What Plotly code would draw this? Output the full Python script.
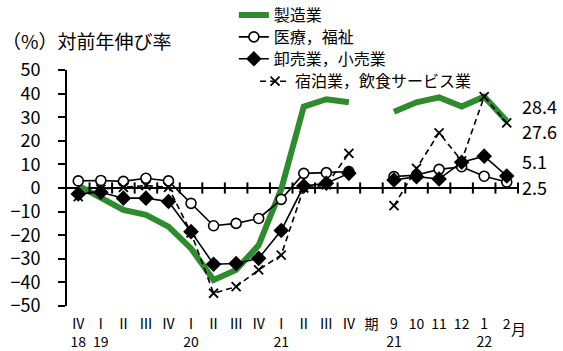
import plotly.graph_objects as go

# Category labels: quarters (2018 Q4 - 2021 Q4), a spacer, then months (Sep 2021 - Feb 2022)
tick_labels = ["Ⅳ<br>18", "Ⅰ<br>19", "Ⅱ", "Ⅲ", "Ⅳ", "Ⅰ<br>20", "Ⅱ", "Ⅲ", "Ⅳ",
               "Ⅰ<br>21", "Ⅱ", "Ⅲ", "Ⅳ", "期", "9<br>21", "10", "11", "12", "1<br>22", "2"]

# Year-on-year change (%) by industry
manufacturing = [1.0, -4.4, -9.3, -11.4, -16.4, -25.6, -39.0, -34.7, -24.2, -0.5, 34.5, 37.6, 36.3,
                 None, 32.3, 36.3, 38.4, 34.5, 38.7, 28.4]
medical = [3.0, 3.2, 2.8, 4.1, 3.0, -6.5, -16.0, -15.0, -12.9, -4.8, 6.2, 6.5, 7.0,
           None, 4.8, 5.5, 7.9, 9.0, 5.0, 2.5]
wholesale = [-2.5, -1.8, -4.3, -4.3, -5.7, -18.5, -32.3, -32.0, -29.8, -18.0, 0.8, 2.0, 6.2,
             None, 3.4, 4.8, 3.8, 10.9, 13.5, 5.1]
accommodation = [-3.7, -0.5, 0.3, 1.0, 0.3, -19.0, -44.6, -41.8, -34.7, -28.4, 0.0, 1.3, 14.7,
                 None, -7.5, 8.3, 23.4, 11.5, 38.7, 27.6]

series_names = ["製造業", "医療，福祉", "卸売業，小売業", "宿泊業，飲食サービス業"]

FONT = "Noto Sans CJK JP"
x = list(range(len(tick_labels)))

fig = go.Figure()

fig.add_trace(go.Scatter(
    x=x, y=manufacturing, name=series_names[0], mode="lines", legend="legend",
    line=dict(color="#2E8B2E", width=6), connectgaps=False))
fig.add_trace(go.Scatter(
    x=x, y=medical, name=series_names[1], mode="lines+markers", legend="legend2",
    line=dict(color="black", width=1.6),
    marker=dict(symbol="circle", size=10, color="white", line=dict(color="black", width=1.6)),
    connectgaps=False))
fig.add_trace(go.Scatter(
    x=x, y=wholesale, name=series_names[2], mode="lines+markers", legend="legend3",
    line=dict(color="black", width=1.6),
    marker=dict(symbol="diamond", size=12, color="black"),
    connectgaps=False))
fig.add_trace(go.Scatter(
    x=x, y=accommodation, name=series_names[3], mode="lines+markers", legend="legend4",
    line=dict(color="black", width=1.6, dash="6px,4px"),
    marker=dict(symbol="x-thin", size=9, color="black", line=dict(color="black", width=1.8)),
    connectgaps=False))

# Cross ticks along the zero line at category boundaries
boundaries = [i + 0.5 for i in x]
fig.add_trace(go.Scatter(
    x=boundaries, y=[0] * len(boundaries), mode="markers", showlegend=False,
    hoverinfo="skip", cliponaxis=False,
    marker=dict(symbol="line-ns", size=8, color="black", line=dict(color="black", width=2))))

# Latest-value labels on the right, nudged apart vertically
last = len(x) - 1
label_specs = [(manufacturing[-1], 15), (accommodation[-1], -8), (wholesale[-1], 15), (medical[-1], -5)]
annotations = []
for val, dy in label_specs:
    annotations.append(dict(
        x=last, y=val, xref="x", yref="y", text=f"{val:.1f}", showarrow=False,
        xanchor="left", yanchor="middle", xshift=13, yshift=dy,
        font=dict(family=FONT, size=18, color="black")))

annotations.append(dict(
    x=last + 0.5, y=0, xref="x", yref="paper", text="月", showarrow=False,
    xanchor="center", yanchor="top", yshift=-10,
    font=dict(family=FONT, size=15, color="black")))
annotations.append(dict(
    x=-0.148, y=1.127, xref="paper", yref="paper", text="（%）対前年伸び率", showarrow=False,
    xanchor="left", yanchor="middle",
    font=dict(family=FONT, size=19, color="black")))


def legend_box(xpos, ypos):
    return dict(x=xpos, y=ypos, xanchor="left", yanchor="middle",
                bgcolor="rgba(0,0,0,0)", font=dict(family=FONT, size=16), itemwidth=30)


fig.update_layout(
    width=563, height=351,
    margin=dict(l=67, r=45, t=70, b=45, autoexpand=False),
    paper_bgcolor="white", plot_bgcolor="white",
    font=dict(family=FONT, color="black"),
    showlegend=True,
    legend=legend_box(0.370, 1.233),
    legend2=legend_box(0.370, 1.140),
    legend3=legend_box(0.370, 1.047),
    legend4=legend_box(0.417, 0.952),
    annotations=annotations,
    xaxis=dict(
        range=[-0.5, len(x) - 0.5], tickvals=x, ticktext=tick_labels,
        showgrid=False, showline=False, zeroline=False, ticks="", automargin=False,
        tickfont=dict(family=FONT, size=14), ticklabelstandoff=8),
    yaxis=dict(
        range=[-50, 50], dtick=10, showgrid=False, automargin=False,
        showline=True, linecolor="black", linewidth=2,
        ticks="outside", ticklen=7, tickwidth=2, tickcolor="black",
        zeroline=True, zerolinecolor="black", zerolinewidth=2,
        tickfont=dict(family=FONT, size=18), ticklabelstandoff=14),
)

fig.write_html("out.html")
